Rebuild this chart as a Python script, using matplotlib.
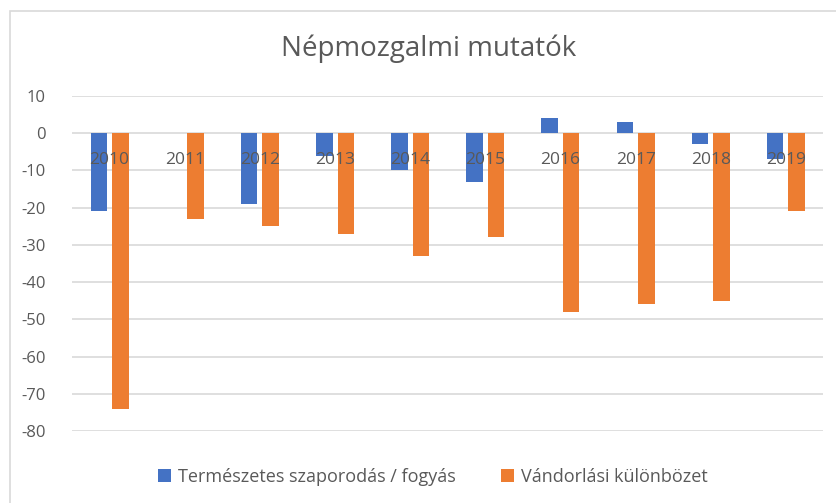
import numpy as np
import matplotlib.pyplot as plt
from matplotlib.patches import Rectangle

plt.rcParams['font.family'] = ['Open Sans', 'DejaVu Sans']
plt.rcParams['axes.unicode_minus'] = False

years = ['2010', '2011', '2012', '2013', '2014', '2015', '2016', '2017', '2018', '2019']
termeszetes = [-21, 0, -19, -6, -10, -13, 4, 3, -3, -7]
vandorlasi = [-74, -23, -25, -27, -33, -28, -48, -46, -45, -21]

blue = '#4472C4'
orange = '#ED7D31'
text_c = '#595959'
grid_c = '#D9D9D9'

fig = plt.figure(figsize=(8.37, 5.03), dpi=100)
ax = fig.add_axes([72/837, 1 - 431/503, (823.5 - 72)/837, (431 - 96)/503])

# chart area frame (only top/left visible in the reference)
fig.patches.append(Rectangle((10/837, -0.1), 1.2, (503 - 11)/503 + 0.1,
                             transform=fig.transFigure, fill=False,
                             edgecolor=grid_c, linewidth=1.2))

x = np.arange(len(years))
w = 0.22
off = 0.143
ax.bar(x - off, termeszetes, w, color=blue, label='Természetes szaporodás / fogyás', zorder=3)
ax.bar(x + off, vandorlasi, w, color=orange, label='Vándorlási különbözet', zorder=3)

ax.set_xlim(-0.5, len(years) - 0.5)
ax.set_ylim(-80, 10)
ax.set_yticks(range(-80, 11, 10))
ax.yaxis.grid(True, color=grid_c, linewidth=1.2, zorder=0)
ax.set_axisbelow(True)
for s in ax.spines.values():
    s.set_visible(False)
ax.tick_params(axis='y', length=0, pad=19, labelsize=12, labelcolor=text_c)
ax.set_xticks([])

# category labels just under the zero line
for i, yr in enumerate(years):
    ax.annotate(yr, (i, 0), xytext=(0, -27), textcoords='offset pixels',
                ha='center', va='center', fontsize=12.5, color=text_c, zorder=4)

fig.text(429/837, 1 - 49/503, 'Népmozgalmi mutatók', ha='center', va='center',
         fontsize=20, color=text_c)

fig.legend(loc='center', bbox_to_anchor=(433/837, 1 - 477/503), ncol=2, frameon=False,
           fontsize=13, labelcolor=text_c, handlelength=0.7, handleheight=0.7,
           handletextpad=0.4, columnspacing=2.5)

fig.savefig('out.png', dpi=100)
